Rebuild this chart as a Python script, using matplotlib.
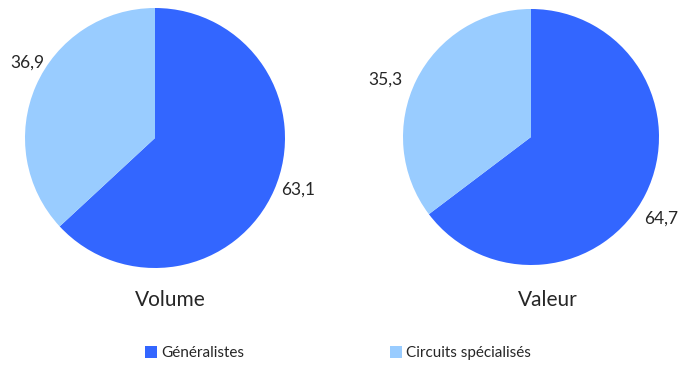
import matplotlib.pyplot as plt
import numpy as np
from matplotlib.patches import Patch

plt.rcParams['font.family'] = ['Lato', 'DejaVu Sans']

categories = ['Généralistes', 'Circuits spécialisés']
volume = [63.1, 36.9]
valeur = [64.7, 35.3]
titles = ['Volume', 'Valeur']
colors = ['#3366FF', '#99CCFF']
text_color = '#262626'

fig = plt.figure(figsize=(6.83, 3.65), dpi=100)
W, H = 683, 365

# axes boxes in pixels: left, top, size
boxes = [(25, 8, 260), (403, 9, 256)]
label_dist = [[1.17, 1.14], [1.2, 1.22]]
label_shift = [[3.6, -7], [-5.5, 5]]  # degrees
title_pos = [(170, 300), (548, 300)]

for i, vals in enumerate([volume, valeur]):
    x0, y0, s = boxes[i]
    ax = fig.add_axes([x0 / W, 1 - (y0 + s) / H, s / W, s / H])
    wedges, _ = ax.pie(vals, colors=colors, startangle=90, counterclock=False,
                       radius=1, wedgeprops=dict(linewidth=0))
    for j, w in enumerate(wedges):
        th = np.deg2rad((w.theta1 + w.theta2) / 2 + label_shift[i][j])
        d = label_dist[i][j]
        ax.text(d * np.cos(th), d * np.sin(th), f'{vals[j]:.1f}'.replace('.', ','),
                ha='center', va='center', fontsize=12.5, color=text_color)
    ax.set_xlim(-1, 1)
    ax.set_ylim(-1, 1)
    ax.set_aspect('equal')
    ax.axis('off')
    tx, ty = title_pos[i]
    fig.text(tx / W, 1 - ty / H, titles[i], ha='center', va='center',
             fontsize=15, color=text_color)

handles = [Patch(facecolor=c, edgecolor='none') for c in colors]
fig.legend(handles, categories, loc='center', bbox_to_anchor=(338 / W, 1 - 353 / H),
           ncol=2, frameon=False, fontsize=11, handlelength=0.8, handleheight=0.8,
           handletextpad=0.3, columnspacing=9.5, labelcolor=text_color)

fig.savefig('out.png', dpi=100)
